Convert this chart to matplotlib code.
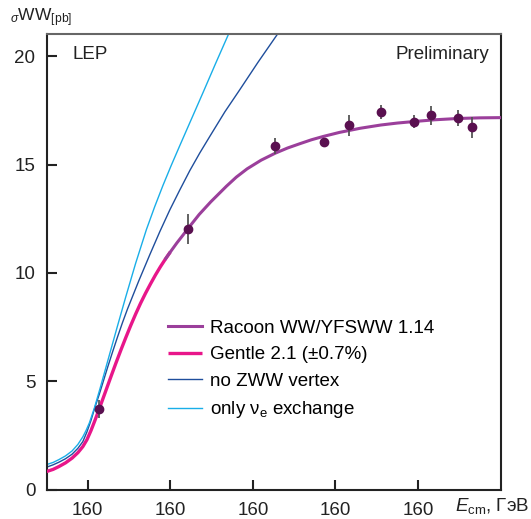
import matplotlib
matplotlib.use("Agg")
import matplotlib.pyplot as plt

plt.rcParams["font.family"] = ["Liberation Sans", "DejaVu Sans"]
plt.rcParams["mathtext.fontset"] = "custom"
plt.rcParams["mathtext.rm"] = "Liberation Sans"
plt.rcParams["mathtext.it"] = "Liberation Sans:italic"

# ---- data ----
e_data = [161.3, 172.1, 182.7, 188.6, 191.6, 195.5, 199.5, 201.6, 204.8, 206.6]
sig_data = [3.74, 12.04, 15.86, 16.03, 16.81, 17.42, 16.98, 17.26, 17.14, 16.71]
sig_err = [0.40, 0.69, 0.36, 0.20, 0.48, 0.31, 0.31, 0.42, 0.38, 0.49]

e_gentle = [155.0, 155.8, 156.5, 157.3, 158.1, 158.8, 159.4, 159.9, 160.4, 160.9,
            161.3, 161.8, 162.2, 162.8, 163.4, 164.0, 164.6, 165.2, 165.8, 166.4,
            167.0, 167.6, 168.2, 168.8, 169.45, 170.0]
sig_gentle = [0.85, 0.95, 1.08, 1.25, 1.47, 1.72, 2.00, 2.32, 2.75, 3.24,
              3.65, 4.17, 4.59, 5.22, 5.84, 6.44, 7.02, 7.58, 8.11, 8.61,
              9.07, 9.50, 9.91, 10.29, 10.67, 10.97]

e_racoon = [169.45, 170.0, 170.8, 171.5, 172.1, 173.5, 174.9, 176.8, 178.0, 179.3,
            181.0, 182.7, 184.2, 185.7, 187.1, 188.5, 190.5, 193.0, 195.5, 197.5,
            199.5, 202.0, 204.8, 207.5, 210.0]
sig_racoon = [10.67, 10.97, 11.39, 11.73, 12.03, 12.70, 13.28, 14.00, 14.42, 14.80,
              15.20, 15.52, 15.76, 15.96, 16.14, 16.29, 16.48, 16.67, 16.82, 16.91,
              16.98, 17.06, 17.12, 17.15, 17.16]

e_nozww = [155.0, 155.8, 156.5, 157.3, 158.1, 158.8, 159.4, 159.9, 160.4, 160.9,
           161.4, 161.8, 162.4, 163.0, 163.6, 164.2, 164.81, 166.18, 167.52, 168.73,
           169.94, 171.15, 172.36, 173.58, 174.79, 176.61, 178.42, 180.6, 182.95]
sig_nozww = [1.05, 1.16, 1.28, 1.44, 1.65, 1.92, 2.23, 2.68, 3.22, 3.85,
             4.42, 4.91, 5.65, 6.36, 7.05, 7.71, 8.34, 9.64, 10.85, 11.91,
             12.91, 13.83, 14.72, 15.54, 16.30, 17.43, 18.45, 19.70, 20.99]

e_nue = [155.0, 155.8, 156.5, 157.3, 158.1, 158.8, 159.4, 159.8, 160.2, 160.8,
         161.5, 162.0, 162.6, 163.6, 164.6, 165.8, 167.1, 168.1, 169.1, 170.1,
         171.1, 172.1, 173.0, 174.0, 175.5, 177.1]
sig_nue = [1.17, 1.27, 1.40, 1.57, 1.80, 2.10, 2.45, 2.75, 3.10, 3.78,
           4.70, 5.38, 6.20, 7.56, 8.90, 10.45, 12.00, 13.05, 14.03, 14.95,
           15.83, 16.70, 17.48, 18.35, 19.67, 21.05]

x_ticks = [160, 170, 180, 190, 200]
x_tick_labels = ["160", "160", "160", "160", "160"]
y_ticks = [0, 5, 10, 15, 20]

# ---- figure ----
fig = plt.figure(figsize=(5.31, 5.19), dpi=100)
ax = fig.add_axes([0.0876, 0.0559, 0.855, 0.878])

ax.plot(e_gentle, sig_gentle, color="#e8168a", lw=2.4, solid_capstyle="butt",
        label="Gentle 2.1 (\u00b10.7%)", zorder=3)
ax.plot(e_racoon, sig_racoon, color="#9b3f9b", lw=2.2,
        label="Racoon WW/YFSWW 1.14", zorder=4)
ax.plot(e_nozww, sig_nozww, color="#1f4e9c", lw=1.0, label="no ZWW vertex", zorder=2)
ax.plot(e_nue, sig_nue, color="#19aee8", lw=1.0,
        label="only \u03bd$_{\\rm e}$ exchange", zorder=2)

ax.errorbar(e_data, sig_data, yerr=sig_err, fmt="o", color="#5a1050",
            ms=6, ecolor="#555555", elinewidth=1.3, capsize=0, zorder=5)

ax.set_xlim(155, 210)
ax.set_ylim(0, 21)
ax.set_xticks(x_ticks)
ax.set_xticklabels(x_tick_labels)
ax.set_yticks(y_ticks)
ax.tick_params(direction="in", length=7, width=1.5, labelsize=13.5,
               colors="#222222")
ax.tick_params(axis="x", pad=9)
ax.tick_params(axis="y", pad=8)

for s in ["left", "bottom", "right"]:
    ax.spines[s].set_linewidth(1.5)
    ax.spines[s].set_color("#222222")
ax.spines["top"].set_linewidth(1.5)
ax.spines["top"].set_color("#666666")

ax.text(0.058, 0.955, "LEP", transform=ax.transAxes, fontsize=13.5,
        va="center", ha="left", color="#222222")
ax.text(0.975, 0.955, "Preliminary", transform=ax.transAxes, fontsize=13.5,
        va="center", ha="right", color="#222222")

# y label at top left
fig.text(0.018, 0.965, "$_{\\sigma}$WW$_{\\rm [pb]}$", fontsize=12.5,
         va="center", ha="left", color="#222222")

# x label at right of the tick labels
fig.text(0.857, 0.025, "$E_{\\rm cm}$, \u0413\u044d\u0412", fontsize=13.5,
         va="center", ha="left", color="#222222")

handles, labels = ax.get_legend_handles_labels()
order = [1, 0, 2, 3]
ax.legend([handles[i] for i in order], [labels[i] for i in order],
          loc="upper left", bbox_to_anchor=(0.268, 0.374), frameon=False,
          fontsize=13.5, handlelength=1.8, handletextpad=0.45,
          labelspacing=0.5, borderaxespad=0, borderpad=0)

plt.savefig("out.png", dpi=100)
